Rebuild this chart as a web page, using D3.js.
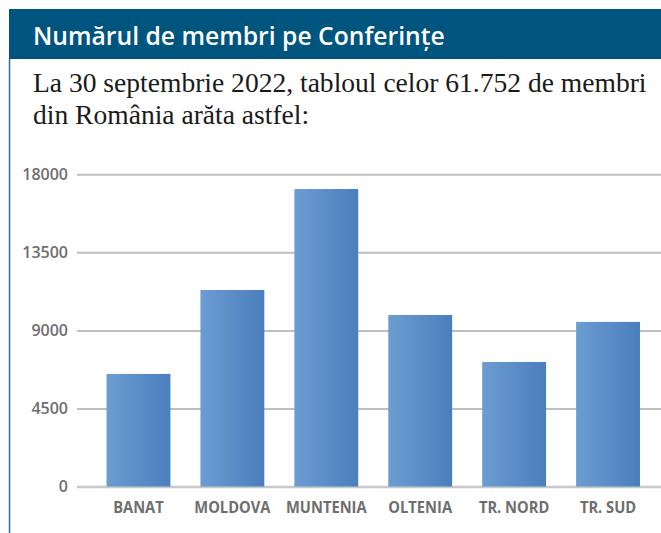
<!DOCTYPE html>
<html>
<head>
<meta charset="utf-8">
<script src="https://cdn.jsdelivr.net/npm/d3@7"></script>
<style>
  body { margin: 0; background: #fff; }
  svg { display: block; }
</style>
</head>
<body>
<svg width="661" height="533"></svg>
<script>
// Data
var regions = ["BANAT", "MOLDOVA", "MUNTENIA", "OLTENIA", "TR. NORD", "TR. SUD"];
var members = [6490, 11330, 17150, 9890, 7180, 9490];
var yTicks = [0, 4500, 9000, 13500, 18000];

var titleText = "Numărul de membri pe Conferințe";
var subtitleLines = ["La 30 septembrie 2022, tabloul celor 61.752 de membri",
  "din România arăta astfel:"];

var svg = d3.select("svg"),
  width = +svg.attr("width"),
  height = +svg.attr("height");

// gradient for bars
var defs = svg.append("defs");
var grad = defs.append("linearGradient")
  .attr("id", "barGrad")
  .attr("x1", "0%").attr("x2", "100%")
  .attr("y1", "0%").attr("y2", "0%");
grad.append("stop").attr("offset", "0%").attr("stop-color", "#6c9dd1");
grad.append("stop").attr("offset", "100%").attr("stop-color", "#4a7ebd");

// Header band
svg.append("rect")
  .attr("x", 9).attr("y", 9)
  .attr("width", width - 9).attr("height", 50)
  .attr("fill", "#00557f");

// left frame line
svg.append("line")
  .attr("x1", 9.5).attr("x2", 9.5)
  .attr("y1", 59).attr("y2", height)
  .attr("stroke", "#2f6ea0")
  .attr("stroke-width", 1.5);

// fit a text's font size so it spans a given width
function fitSize(sel, target) {
  var fs = parseFloat(sel.attr("font-size"));
  var w = sel.node().getComputedTextLength();
  return fs * target / w;
}

var title = svg.append("text")
  .attr("x", 33).attr("y", 45)
  .attr("font-family", "'Open Sans', sans-serif")
  .attr("font-weight", 600)
  .attr("font-size", 23)
  .attr("fill", "#fff")
  .text(titleText);
title.attr("font-size", fitSize(title, 412));

var sub = svg.append("g")
  .attr("font-family", "'Liberation Serif', 'DejaVu Serif', serif")
  .attr("fill", "#1a1a1a");
var subLines = sub.selectAll("text")
  .data(subtitleLines)
  .enter().append("text")
  .attr("x", 33)
  .attr("y", function(d, i) { return 91.5 + i * 32; })
  .attr("font-size", 25)
  .text(function(d) { return d; });
var subSize = fitSize(d3.select(subLines.nodes()[0]), 614);
subLines.attr("font-size", subSize);

// Scales
var y = d3.scaleLinear()
  .domain([0, 18000])
  .range([486.5, 174.3]);

var x = d3.scaleBand()
  .domain(regions)
  .range([91.5, 655])
  .paddingInner(0.32)
  .paddingOuter(0.16);

// Grid / y axis
var axisX = 77;
var yAxis = svg.append("g")
  .attr("transform", "translate(" + axisX + ",0)")
  .call(d3.axisLeft(y)
    .tickValues(yTicks)
    .tickSize(-(width - axisX))
    .tickPadding(9)
    .tickFormat(d3.format("d")));
yAxis.select(".domain").remove();
yAxis.selectAll(".tick line")
  .attr("stroke", "#bfbfbf")
  .attr("stroke-width", 2);
yAxis.selectAll(".tick text")
  .attr("fill", "#6e6e6e")
  .attr("font-family", "'Open Sans', sans-serif")
  .attr("font-weight", 600)
  .attr("font-size", 16);
yAxis.selectAll(".tick")
  .filter(function(d) { return d === 0; })
  .select("line")
  .attr("stroke", "#c8c8c8")
  .attr("stroke-width", 2.5);

// Bars
svg.append("g")
  .selectAll("rect")
  .data(regions)
  .enter().append("rect")
  .attr("x", function(d) { return x(d); })
  .attr("width", x.bandwidth())
  .attr("y", function(d, i) { return y(members[i]); })
  .attr("height", function(d, i) { return y(0) - y(members[i]); })
  .attr("fill", "url(#barGrad)");

// Category labels (condensed look: horizontally squeezed bold sans)
var labels = svg.append("g")
  .selectAll("text")
  .data(regions)
  .enter().append("text")
  .attr("text-anchor", "middle")
  .attr("font-family", "'Open Sans', sans-serif")
  .attr("font-weight", 700)
  .attr("font-size", 16)
  .attr("fill", "#6e6e6e")
  .text(function(d) { return d; });
var refW = labels.filter(function(d) { return d === "MUNTENIA"; }).node().getComputedTextLength();
var squeeze = 80.7 / refW;
labels.attr("transform", function(d) {
  return "translate(" + (x(d) + x.bandwidth() / 2) + ",513.3) scale(" + squeeze + ",1)";
});
</script>
</body>
</html>
